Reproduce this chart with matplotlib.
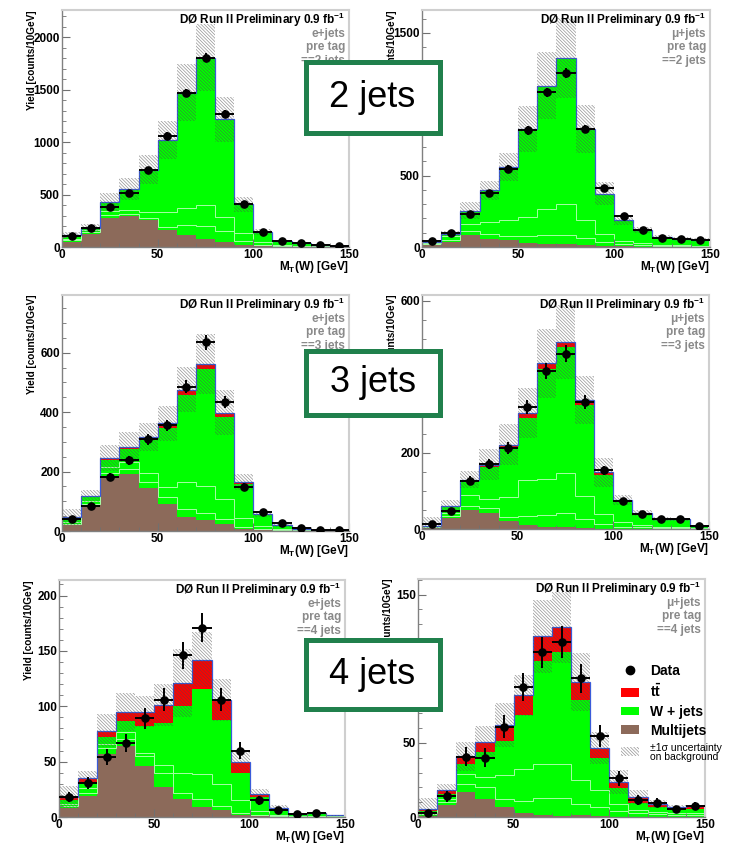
import numpy as np
import matplotlib
matplotlib.use("Agg")
import matplotlib.pyplot as plt
from matplotlib.patches import Rectangle, Patch
from matplotlib.lines import Line2D
from matplotlib.ticker import MultipleLocator

plt.rcParams['font.family'] = ['Liberation Sans', 'DejaVu Sans']
plt.rcParams['font.weight'] = 'bold'
plt.rcParams['mathtext.fontset'] = 'custom'
plt.rcParams['mathtext.rm'] = 'Liberation Sans:bold'
plt.rcParams['mathtext.bf'] = 'Liberation Sans:bold'
plt.rcParams['mathtext.it'] = 'Liberation Sans:bold'
plt.rcParams['hatch.linewidth'] = 0.5

# 15 bins of 10 GeV in M_T(W)
edges = np.arange(0, 160, 10)
centers = edges[:-1] + 5

# ---- e+jets, ==2 jets
e2_data = [108, 185, 382, 516, 739, 1060, 1471, 1806, 1271, 414, 143, 57, 35, 16, 10]
e2_multijet = [48, 127, 280, 293, 255, 162, 114, 75, 50, 18, 6, 3, 2, 1, 1]
e2_w_bb = [14, 13, 25, 22, 25, 32, 96, 130, 100, 42, 16, 7, 4, 2, 1]
e2_w_cc = [18, 20, 35, 35, 55, 143, 159, 195, 139, 73, 28, 12, 6, 4, 2]
e2_w_lp = [38, 20, 89, 205, 401, 678, 1096, 1399, 922, 272, 91, 34, 23, 9, 6]
e2_ttbar = [0, 0, 1, 2, 3, 4, 6, 7, 6, 3, 2, 1, 0, 0, 0]
e2_unc = [25, 35, 85, 105, 135, 180, 270, 320, 215, 70, 25, 10, 6, 3, 2]

# ---- mu+jets, ==2 jets
m2_data = [42, 100, 233, 378, 548, 816, 1084, 1217, 828, 415, 217, 117, 65, 58, 51]
m2_multijet = [12, 35, 82, 58, 47, 28, 23, 19, 12, 6, 4, 3, 2, 2, 1]
m2_w_bb = [8, 15, 28, 32, 33, 47, 59, 66, 48, 29, 16, 9, 6, 4, 4]
m2_w_cc = [8, 25, 50, 85, 106, 135, 186, 213, 126, 55, 25, 13, 7, 6, 5]
m2_w_lp = [7, 18, 94, 219, 370, 613, 855, 1016, 634, 279, 139, 91, 54, 46, 41]
m2_ttbar = [0, 0, 1, 2, 3, 5, 8, 10, 8, 4, 2, 1, 1, 0, 0]
m2_unc = [8, 18, 60, 65, 100, 160, 235, 280, 170, 80, 35, 20, 12, 10, 9]

# ---- e+jets, ==3 jets
e3_data = [42, 84, 182, 238, 308, 356, 485, 635, 435, 148, 64, 28, 9, 4, 4]
e3_multijet = [19, 81, 184, 193, 145, 90, 47, 38, 25, 8, 4, 2, 1, 1, 1]
e3_w_bb = [5, 9, 12, 17, 20, 25, 28, 22, 15, 7, 4, 2, 1, 0, 0]
e3_w_cc = [6, 10, 19, 22, 30, 33, 90, 90, 69, 30, 10, 4, 2, 1, 0]
e3_w_lp = [16, 14, 25, 43, 112, 200, 293, 394, 275, 112, 36, 9, 3, 3, 3]
e3_ttbar = [2, 4, 6, 8, 10, 14, 18, 18, 14, 8, 4, 2, 1, 0, 0]
e3_unc = [27, 19, 43, 51, 47, 58, 75, 100, 76, 26, 10, 4, 2, 1, 1]

# ---- mu+jets, ==3 jets
m3_data = [13, 46, 127, 172, 213, 321, 415, 461, 333, 154, 73, 39, 27, 25, 7]
m3_multijet = [3, 29, 51, 42, 20, 11, 5, 5, 3, 1, 1, 1, 0, 0, 0]
m3_w_bb = [2, 6, 9, 13, 12, 22, 33, 37, 22, 11, 5, 3, 2, 2, 1]
m3_w_cc = [2, 7, 30, 25, 53, 97, 94, 104, 61, 28, 12, 6, 4, 3, 1]
m3_w_lp = [1, 15, 35, 83, 129, 163, 289, 332, 241, 103, 56, 30, 19, 19, 7]
m3_ttbar = [1, 3, 5, 6, 8, 12, 14, 14, 12, 6, 3, 2, 1, 1, 0]
m3_unc = [23, 17, 22, 40, 53, 66, 90, 98, 63, 38, 13, 8, 5, 5, 2]

# ---- e+jets, ==4 jets
e4_data = [18, 31, 54, 67, 89, 106, 146, 171, 106, 60, 15, 6, 2.4, 4, 0]
e4_multijet = [8, 19, 57, 64, 46, 27, 16, 9, 6, 2, 0.5, 0.3, 0.2, 0.2, 0.1]
e4_w_bb = [2, 3, 5, 6, 9, 13, 6, 7, 4, 2, 1, 0.3, 0.2, 0.1, 0.1]
e4_w_cc = [2, 4, 4, 7, 3, 7, 18, 23, 20, 11, 3.5, 1.4, 0.6, 0.7, 0.3]
e4_w_lp = [3.3, 6, 6.5, 10, 24, 38, 60, 77, 58, 25, 13, 5.5, 1.5, 2.1, 0.7]
e4_ttbar = [3, 3.5, 5.5, 8, 13, 16, 21, 26, 18, 10, 3, 1, 0.5, 0.5, 0.3]
e4_unc = [10, 6, 15, 17, 14, 19, 31, 25, 19, 10, 4, 2, 1, 1, 0.5]

# ---- mu+jets, ==4 jets
m4_data = [3, 14, 40.6, 40, 61, 87.5, 111, 118, 93.6, 54.6, 26, 11.3, 9.7, 5.2, 7.2]
m4_multijet = [1, 8, 17, 12.4, 7, 3, 1.6, 1, 1.5, 0.5, 0.3, 0.3, 0.2, 0.2, 0.2]
m4_w_bb = [1, 2, 5.5, 7.6, 5.4, 8, 11.4, 12, 7.5, 6.5, 3.7, 2.7, 1.8, 1.3, 1.3]
m4_w_cc = [1, 2, 6.5, 7, 15.6, 21.7, 23, 23, 16, 11, 5, 2, 1.5, 1, 1]
m4_w_lp = [1.1, 3.8, 7, 16.7, 23, 36.3, 69, 75, 54, 21.6, 10.6, 4.5, 3.5, 2.9, 2.9]
m4_ttbar = [1.5, 2.7, 5, 7, 11, 13, 17, 17, 12, 7, 4, 4, 2, 1.4, 1.8]
m4_unc = [7.5, 4, 9.7, 11, 14.6, 14, 24.6, 24, 19.5, 11, 8, 4.5, 2.7, 1.5, 1.2]

RED = '#ff0000'
GREEN = '#00ff00'
LGREEN = '#a6ffa6'
BROWN = '#8c6a5a'
BLUE = '#3a5bd9'
GREY = '#8a8a8a'
BOXGREEN = '#20804c'
HATCH = '\\' * 10
HATCHCOL = (0.3, 0.3, 0.3, 0.6)

W, H = 735.0, 849.0


def px_rect(left, top, right, bottom):
    return [left / W, 1 - bottom / H, (right - left) / W, (bottom - top) / H]


def draw_panel(ax, data, mj, wbb, wcc, wlp, tt, unc, chan, njet, ymax, major, minor):
    lvl_mj = np.array(mj, float)
    lvl_bb = lvl_mj + np.array(wbb)
    lvl_cc = lvl_bb + np.array(wcc)
    lvl_w = lvl_cc + np.array(wlp)
    lvl_tot = lvl_w + np.array(tt)

    ax.stairs(lvl_tot, edges, baseline=lvl_w, fill=True, color=RED, lw=0)
    ax.stairs(lvl_w, edges, baseline=lvl_cc, fill=True, color=GREEN, lw=0)
    ax.stairs(lvl_cc, edges, baseline=lvl_bb, fill=True, color=GREEN, lw=0)
    ax.stairs(lvl_bb, edges, baseline=lvl_mj, fill=True, color=GREEN, lw=0)
    ax.stairs(lvl_mj, edges, baseline=0, fill=True, color=BROWN, lw=0)
    ax.stairs(lvl_bb, edges, baseline=None, color=LGREEN, lw=0.7)
    ax.stairs(lvl_cc, edges, baseline=None, color=LGREEN, lw=0.7)
    ax.stairs(lvl_tot, edges, baseline=None, color=BLUE, lw=0.9)

    # background uncertainty band
    unc = np.array(unc, float)
    ax.bar(centers, 2 * unc, bottom=lvl_tot - unc, width=10, fill=False,
           hatch=HATCH, edgecolor=HATCHCOL, lw=0)

    data = np.array(data, float)
    ok = data > 0
    ax.errorbar(centers[ok], data[ok], xerr=5, yerr=np.sqrt(data[ok]), fmt='o',
                color='k', ms=5.2, elinewidth=1.4, capsize=0, zorder=5)

    ax.set_xlim(0, 150)
    ax.set_ylim(0, ymax)
    ax.xaxis.set_major_locator(MultipleLocator(50))
    ax.xaxis.set_minor_locator(MultipleLocator(10))
    ax.yaxis.set_major_locator(MultipleLocator(major))
    ax.yaxis.set_minor_locator(MultipleLocator(minor))
    ax.tick_params(which='both', direction='in', top=False, right=False,
                   color='#707070', labelsize=8.5, pad=1.5)
    ax.tick_params(which='major', length=6)
    ax.tick_params(which='minor', length=3)
    for side in ('left', 'bottom'):
        ax.spines[side].set_color('#808080')
        ax.spines[side].set_linewidth(1.0)
    for side in ('top', 'right'):
        ax.spines[side].set_color('#cfcfcf')
        ax.spines[side].set_linewidth(1.5)

    lines = [('D\u00d8 Run II Preliminary 0.9 fb$^{-1}$', 'k'),
             (chan, GREY), ('pre tag', GREY), ('==%d jets' % njet, GREY)]
    for i, (txt, col) in enumerate(lines):
        ax.annotate(txt, xy=(1, 1), xycoords='axes fraction',
                    xytext=(-4, -10 - 13.7 * i), textcoords='offset pixels',
                    ha='right', va='center', fontsize=8.5, color=col)

    ax.annotate('Yield [counts/10GeV]', xy=(0, 1), xycoords='axes fraction',
                xytext=(-30, 0), textcoords='offset pixels', rotation=90,
                ha='center', va='top', fontsize=7.2)
    ax.annotate(r'M$_\mathbf{T}$(W) [GeV]', xy=(1, 0), xycoords='axes fraction',
                xytext=(0, -20), textcoords='offset pixels',
                ha='right', va='center', fontsize=8.5)


fig = plt.figure(figsize=(7.35, 8.49), dpi=100)

panels = [
    (px_rect(62, 10, 349, 247), e2_data, e2_multijet, e2_w_bb, e2_w_cc, e2_w_lp, e2_ttbar, e2_unc, 'e+jets', 2, 2260, 500, 100),
    (px_rect(422, 10, 710, 247), m2_data, m2_multijet, m2_w_bb, m2_w_cc, m2_w_lp, m2_ttbar, m2_unc, '\u03bc+jets', 2, 1660, 500, 100),
    (px_rect(62, 295, 349, 531), e3_data, e3_multijet, e3_w_bb, e3_w_cc, e3_w_lp, e3_ttbar, e3_unc, 'e+jets', 3, 794, 200, 50),
    (px_rect(422, 295, 709, 529), m3_data, m3_multijet, m3_w_bb, m3_w_cc, m3_w_lp, m3_ttbar, m3_unc, '\u03bc+jets', 3, 615, 200, 50),
    (px_rect(59, 580, 345, 817), e4_data, e4_multijet, e4_w_bb, e4_w_cc, e4_w_lp, e4_ttbar, e4_unc, 'e+jets', 4, 214, 50, 10),
    (px_rect(418, 579, 705, 817), m4_data, m4_multijet, m4_w_bb, m4_w_cc, m4_w_lp, m4_ttbar, m4_unc, '\u03bc+jets', 4, 160.5, 50, 10),
]

axes = []
for rect, *args in panels:
    ax = fig.add_axes(rect)
    draw_panel(ax, *args)
    axes.append(ax)

# legend in the mu+jets 4-jet panel
handles = [Line2D([], [], marker='o', color='k', ls='none', ms=6),
           Patch(fc=RED, ec='none'),
           Patch(fc=GREEN, ec='none'),
           Patch(fc=BROWN, ec='none'),
           Patch(fill=False, hatch=HATCH, ec=HATCHCOL, lw=0)]
labels = ['Data', r'$\mathbf{t\bar{t}}$', 'W + jets', 'Multijets',
          '\u00b11\u03c3 uncertainty\non background']
leg = axes[5].legend(handles, labels, loc='upper left',
                     bbox_to_anchor=(621 / W, 1 - 664 / H), bbox_transform=fig.transFigure,
                     frameon=False, fontsize=10, handlelength=1.3, handleheight=0.6,
                     handletextpad=0.8, labelspacing=0.35, borderpad=0, borderaxespad=0)
leg.get_texts()[4].set_fontsize(7.5)
leg.get_texts()[4].set_fontweight('normal')
leg.get_texts()[4].set_linespacing(0.95)

# jet multiplicity boxes
for label, top, bottom in [('2 jets', 60, 135), ('3 jets', 348, 417), ('4 jets', 637, 711)]:
    box = Rectangle((305.5 / W, 1 - (bottom - 2.5) / H), 134 / W, (bottom - top - 5) / H,
                    transform=fig.transFigure, fc='white', ec=BOXGREEN, lw=3.6, zorder=10)
    fig.add_artist(box)
    fig.text(372.5 / W, 1 - (top + bottom) / 2 / H, label, ha='center', va='center',
             fontsize=26, fontweight='normal', zorder=11)

fig.savefig('out.png', dpi=100)
